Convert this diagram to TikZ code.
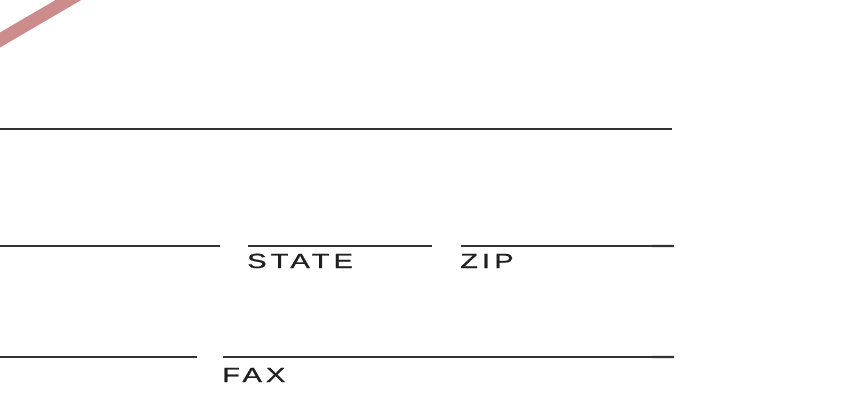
\documentclass[tikz,border=0pt]{standalone}
\usepackage{fontspec}
\setmainfont{Liberation Sans}
\newfontfamily\formfont[LetterSpace=14,FakeBold=0.8]{Liberation Sans}
\newcommand{\formtext}[1]{\scalebox{1.42}[1]{#1}}
\begin{document}
\begin{tikzpicture}[x=1pt,y=-1pt,
  rule/.style={draw=black!80,line width=2pt},
  lbl/.style={anchor=base west,inner sep=0pt,text=black!88,font=\formfont\fontsize{20.5}{21}\selectfont}]
\useasboundingbox (0,0) rectangle (853,409);
\begin{scope}
\clip (0,0) rectangle (853,409);
\draw[line width=13pt,draw={rgb,255:red,205;green,140;blue,140}] (-20,51.7) -- (90,-12.6);
\end{scope}
% rules
\coordinate (a1) at (0,129); \coordinate (a2) at (672,129);
\coordinate (b1) at (0,246); \coordinate (b2) at (220,246);
\coordinate (c1) at (248,246); \coordinate (c2) at (432,246);
\coordinate (d1) at (461,246); \coordinate (d2) at (674,246);
\coordinate (e1) at (0,357); \coordinate (e2) at (197,357);
\coordinate (f1) at (223,357); \coordinate (f2) at (674,357);
\draw[rule] (a1) -- (a2);
\draw[rule] (b1) -- (b2);
\draw[rule] (c1) -- (c2);
\draw[rule] (d1) -- (d2);
\draw[rule] (e1) -- (e2);
\draw[rule] (f1) -- (f2);
\draw[rule,line width=2.3pt] (652,245.9) -- (d2);
\draw[rule,line width=2.3pt] (652,356.9) -- (f2);
% labels
\node[lbl] (state) at (247,268) {\formtext{STATE}};
\node[lbl] (zip) at (460,268) {\formtext{ZIP}};
\node[lbl] (fax) at (222,382) {\formtext{FAX}};
\end{tikzpicture}
\end{document}
